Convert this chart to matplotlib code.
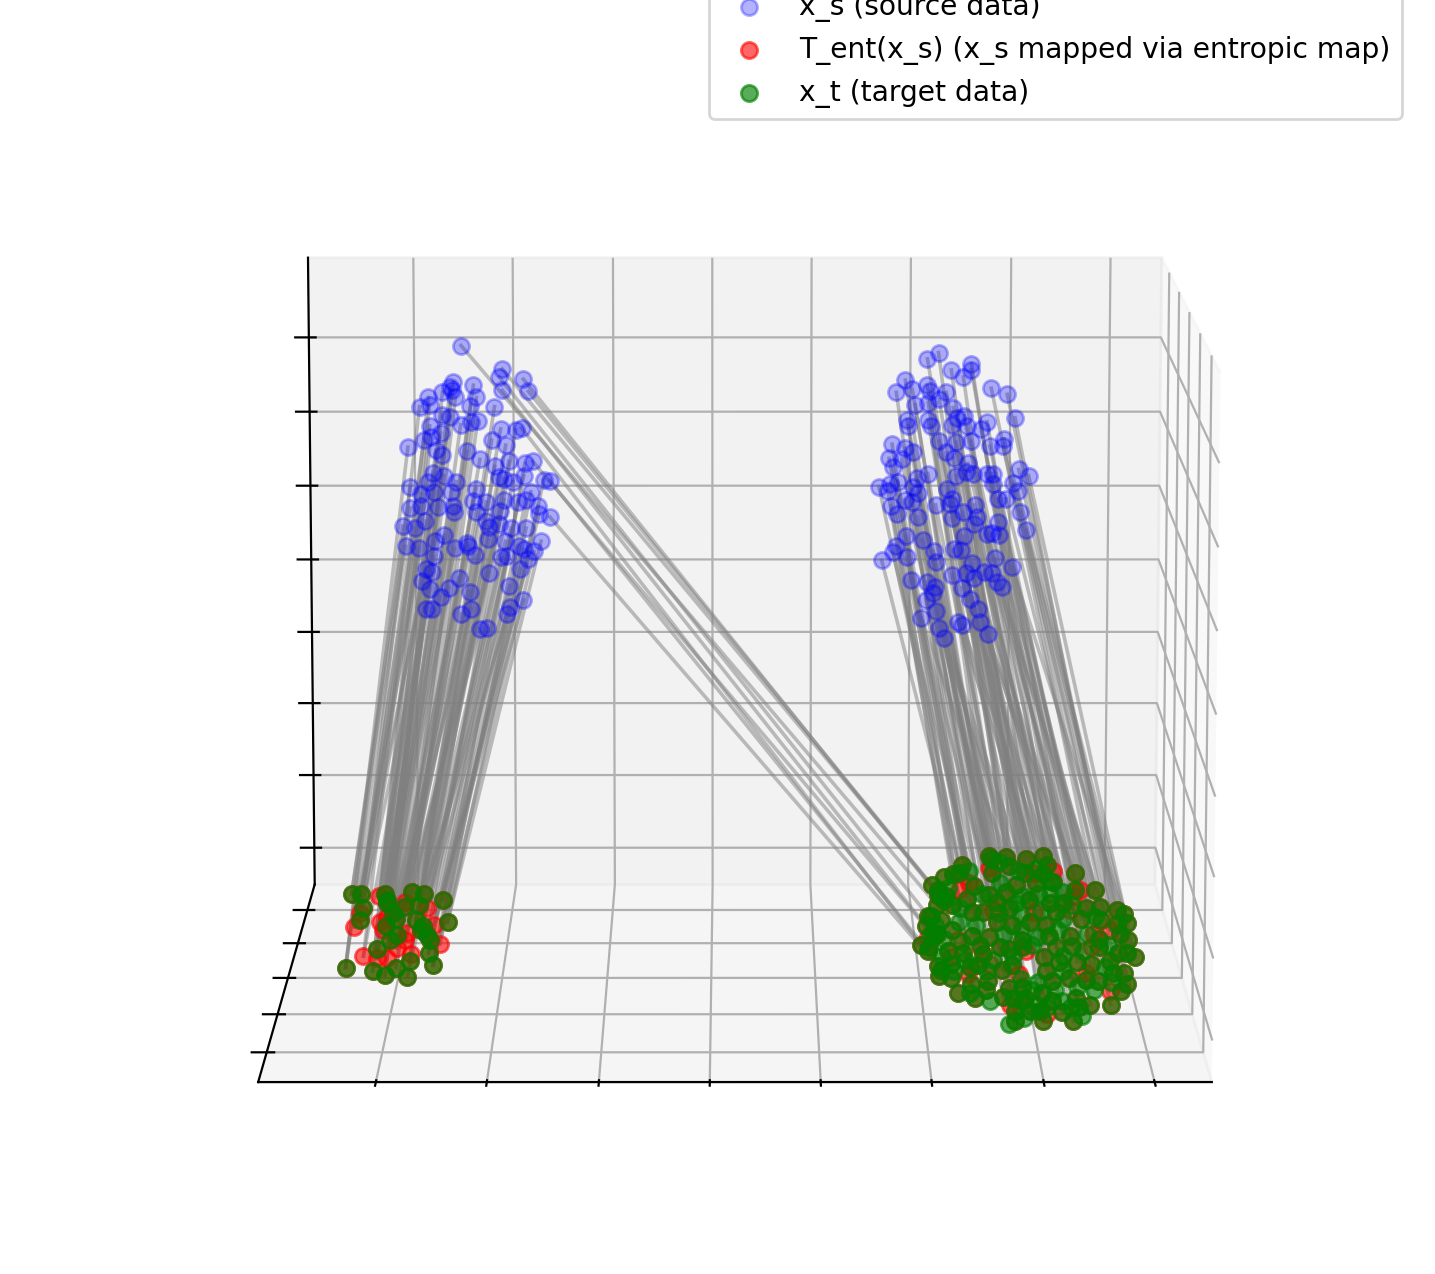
import numpy as np
import matplotlib
matplotlib.use('Agg')
import matplotlib.pyplot as plt

# source points, left cloud (x, z, x tick = 99, z tick = 72.5 units)
x_s_left = [39,36,38,28,14,5,15,41,59,62,56,80,27,35,46,56,63,86,101,15,26,16,9,77,91,-7,21,27,52,65,80,94,110,
            18,29,13,-5,41,36,19,6,89,84,98,109,129,61,116,58,71,89,103,111,123,-5,6,23,38,39,61,85,124,10,-13,-1,
            71,74,84,96,111,73,29,19,90,126,-10,3,39,52,53,104,109,119,60,18,86,92,113,105,10,16,73,6,43,94,33,14,
            54,25,108,94,91,10,16,55,45,64,71]
z_s_left = [463,458,455,453,448,439,441,448,460,448,440,439,431,429,421,424,425,417,416,420,413,409,406,406,401,399,396,391,395,387,380,385,383,
            374,371,365,360,365,355,355,353,368,370,365,371,367,358,355,346,345,347,345,347,341,339,341,340,341,335,335,336,333,326,321,319,
            326,320,323,319,319,308,312,306,306,306,301,299,299,304,301,301,298,296,292,291,290,291,288,279,279,276,275,267,270,262,260,259,
            256,251,248,241,234,239,239,239,234,219,220]

# source points of the left cloud that end up in the right target cloud
x_s_cross = [47,88,85,109,88,114,107,118,135,135]
z_s_cross = [499,476,468,466,455,454,418,385,366,330]
x_t_cross = [500,495,492,501,490,506,486,497,492,501]
z_t_cross = [120,138,111,129,102,125,85,93,80,66]

# source points, right cloud
x_s_right = [524,513,537,557,557,549,491,482,498,513,516,532,577,593,501,514,525,539,493,494,514,517,550,543,553,538,573,567,601,
             478,491,499,525,542,557,590,576,589,532,540,475,488,479,554,514,542,552,559,573,579,605,615,503,465,476,484,579,599,
             499,504,533,474,604,491,498,538,522,536,584,592,477,561,483,504,549,538,607,563,561,585,579,574,586,613,492,551,509,
             482,479,520,541,548,493,468,523,582,559,599,539,553,561,571,579,584,589,498,514,522,520,549,513,557,565,523,508,567,
             545,549,526,575,531]
z_s_right = [492,486,475,481,475,468,465,453,456,460,454,453,457,451,441,443,446,438,426,420,426,420,430,428,420,421,424,417,428,
             402,398,394,405,404,405,407,400,400,394,388,388,387,379,383,373,371,375,373,373,373,377,371,369,360,363,365,363,364,
             360,354,358,356,356,347,345,348,342,343,348,348,341,342,333,330,335,329,335,330,323,325,314,313,312,317,311,311,307,
             301,295,296,298,297,290,287,285,289,284,280,273,275,270,276,275,266,261,268,266,261,255,260,248,249,239,237,230,226,
             226,223,220,214,210]

# target points, left cloud
x_t_left = [-20,-12,10,-10,34,44,61,-13,11,26,40,19,10,65,37,43,47,14,20,2,49,48,-26,31,52,-2,9,19,29,41,11,17]
z_t_left = [130,130,130,118,132,130,125,107,122,119,120,108,102,105,107,102,94,89,94,81,89,78,65,71,67,62,58,65,57,98,125,113]

# mapped points without a target on top of them, left cloud
x_r_left = [4,27,47,-18,5,-13,29,53,58,-10,2,11,20,27,32,11,8]
z_r_left = [128,123,118,101,105,113,96,103,86,75,73,73,82,89,77,110,98]

# target points, right cloud
x_t_right = [522,506,514,519,501,533,527,546,549,548,561,564,579,594,597,578,603,594,588,622,622,640,561,570,546,564,508,513,495,504,
             531,541,553,582,600,612,606,632,645,660,628,646,669,666,500,513,531,546,553,567,583,597,600,618,620,644,644,663,670,493,
             510,523,541,556,576,576,564,606,661,676,669,595,609,625,637,654,504,513,530,537,567,558,597,502,513,546,531,564,576,603,
             618,633,644,657,667,669,519,534,544,559,579,594,603,624,637,655,664,570,570,583,595,612,622,627,592,576]
z_t_right = [156,145,148,149,134,137,126,164,149,161,163,155,161,164,156,149,141,148,140,149,134,134,132,138,129,118,128,120,111,107,
             114,114,123,125,122,122,114,118,119,116,108,107,104,112,95,98,93,92,105,103,105,103,93,93,84,90,83,95,89,83,
             80,78,77,83,89,83,81,83,78,74,78,74,70,70,68,71,63,68,65,67,67,63,62,57,56,53,50,47,48,53,
             56,54,53,60,60,50,42,38,45,39,38,42,35,38,32,32,44,26,17,26,17,25,17,30,26,35]

# targets with no mapped point under them, right cloud
x_e_right = [528,510,555,572,556,588,600,612,575,590,555,575,592,612,520,535,560,575,590,608,498,506,522,538,550,568,585,612,630,652,660,
             650,640,633,515,525,545,575,590,612,625,640,655,530,548,568,585,605,612,630,578,590,565,620,598,505,495,540,620,600,570,520]
z_e_right = [150,135,158,150,140,152,130,132,128,130,113,112,115,108,105,103,95,98,92,98,103,90,88,85,72,75,85,75,80,85,103,
             65,110,95,62,72,62,55,52,62,48,45,52,42,35,38,45,45,35,22,20,32,15,30,30,75,95,130,120,142,122,118]

# mapped points without a target on top of them, right cloud
x_r_right = [519,528,550,586,618,621,627,585,603,546,492,519,538,547,579,513,528,573,633,654,639,654,660,637,598,565]
z_r_right = [134,140,116,114,116,128,134,149,150,153,92,89,83,68,80,74,59,59,60,44,95,98,104,83,24,32]

x_ticks = [0,99,199,298,397,496,596,695]
y_ticks = [0,1,2,3,4]
z_ticks = [0,73,145,216,288,361,434,507]
y_back = 4.8    # depth of the source data
y_front = -0.75 # depth of the mapped and target data
x_first_link = 525 # lines of the right cloud do not reach further left than this


def links(xa, xb):
    # source i goes to the mapped point with the same rank along x
    ra = np.argsort(np.argsort(xa))
    ob = np.argsort(xb)
    return ob[(ra * len(xb)) // len(xa)]


x_t_all_left = np.array(x_t_left + x_r_left)
z_t_all_left = np.array(z_t_left + z_r_left)
x_t_all_right = np.array(x_t_right + x_r_right)
z_t_all_right = np.array(z_t_right + z_r_right)
keep = x_t_all_right >= x_first_link

fig = plt.figure(figsize=(7.175, 6.37), dpi=200)
side = 1400
ax = fig.add_axes([(716 - side / 2) / 1435, (608 - side / 2) / 1274, side / 1435, side / 1274], projection='3d')
ax.computed_zorder = False
ax.set_proj_type('persp', focal_length=0.92)
ax.set_box_aspect((4, 4, 3.0))
ax.view_init(elev=10, azim=-90.01)

for xs, zs, xt, zt in [(x_s_left, z_s_left, x_t_all_left, z_t_all_left),
                       (x_s_right, z_s_right, x_t_all_right[keep], z_t_all_right[keep])]:
    idx = links(np.array(xs), xt)
    for i in range(len(xs)):
        ax.plot([xs[i], xt[idx[i]]], [y_back, y_front], [zs[i], zt[idx[i]]], color='gray', alpha=0.5, lw=1.3, zorder=1)
for i in range(len(x_s_cross)):
    ax.plot([x_s_cross[i], x_t_cross[i]], [y_back, y_front], [z_s_cross[i], z_t_cross[i]], color='gray', alpha=0.5, lw=1.3, zorder=1)

x_s = x_s_left + x_s_cross + x_s_right
z_s = z_s_left + z_s_cross + z_s_right
x_T = list(x_t_all_left) + x_t_cross + list(x_t_all_right)
z_T = list(z_t_all_left) + z_t_cross + list(z_t_all_right)
x_t = x_t_left + x_t_cross + x_t_right + x_e_right
z_t = z_t_left + z_t_cross + z_t_right + z_e_right

h1 = ax.scatter(x_s, [y_back] * len(x_s), z_s, c='blue', alpha=0.3, s=34, depthshade=False, zorder=2, label='x_s (source data)')
h2 = ax.scatter(x_T, [y_front] * len(x_T), z_T, c='red', alpha=0.6, s=34, depthshade=False, zorder=3, label='T_ent(x_s) (x_s mapped via entropic map)')
h3 = ax.scatter(x_t, [y_front] * len(x_t), z_t, c='green', alpha=0.65, s=34, depthshade=False, zorder=4, label='x_t (target data)')

ax.set_xlim(-105, 746)
ax.set_ylim(y_front, y_back)
ax.set_zlim(-37, 585)
ax.set_xticks(x_ticks)
ax.set_yticks(y_ticks)
ax.set_zticks(z_ticks)
ax.set_xticklabels([])
ax.set_yticklabels([])
ax.set_zticklabels([])

fig.legend(handles=[h1, h2, h3], loc='lower right', bbox_to_anchor=(1402 / 1435, 1 - 119 / 1274), borderaxespad=0, fontsize=10.12)
fig.savefig('out.png', dpi=200)
